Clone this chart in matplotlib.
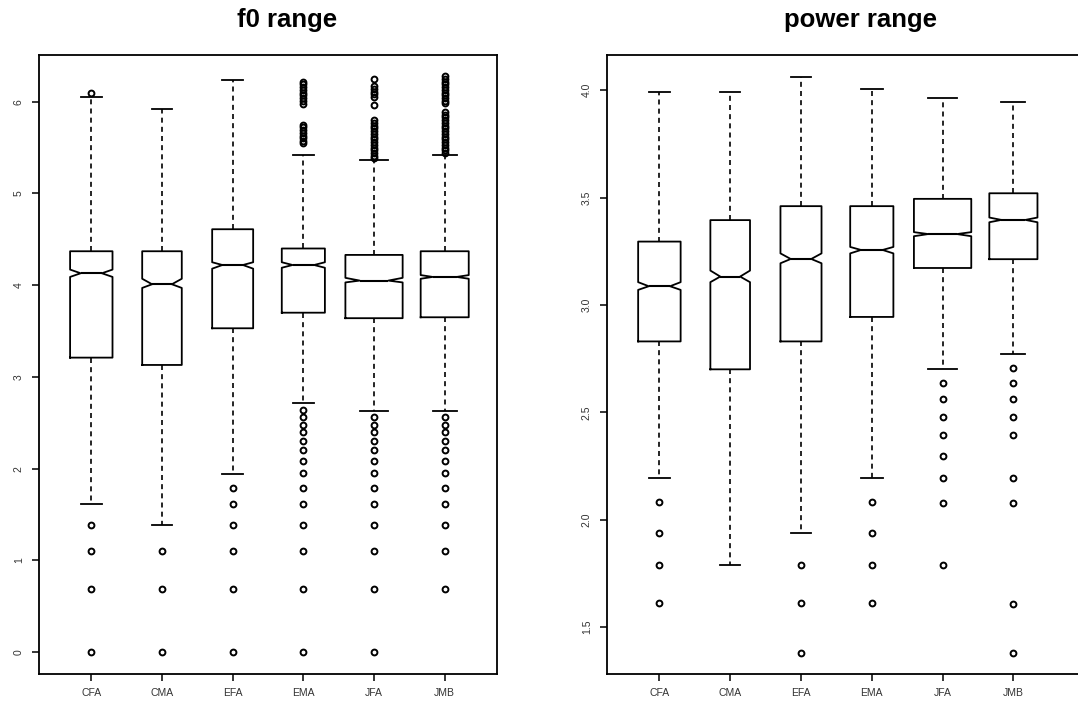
import matplotlib
matplotlib.use("Agg")
import matplotlib.pyplot as plt

plt.rcParams['font.family'] = ['Liberation Sans', 'DejaVu Sans']

groups = ["CFA", "CMA", "EFA", "EMA", "JFA", "JMB"]

# f0 range (left panel)
f0_q1 = [3.21, 3.13, 3.53, 3.70, 3.64, 3.65]
f0_med = [4.13, 4.01, 4.22, 4.22, 4.05, 4.09]
f0_q3 = [4.37, 4.37, 4.61, 4.40, 4.33, 4.37]
f0_lo = [1.61, 1.39, 1.94, 2.71, 2.63, 2.63]
f0_hi = [6.05, 5.92, 6.24, 5.42, 5.36, 5.42]
f0_cilo = [4.09, 3.97, 4.18, 4.19, 4.03, 4.07]
f0_cihi = [4.17, 4.07, 4.25, 4.25, 4.08, 4.11]
f0_out = [
    [6.10, 1.39, 1.10, 0.69, 0.0],
    [1.10, 0.69, 0.0],
    [1.79, 1.61, 1.39, 1.10, 0.69, 0.0],
    [6.22, 6.19, 6.16, 6.13, 6.10, 6.07, 6.04, 6.01, 5.98,
     5.75, 5.72, 5.69, 5.66, 5.63, 5.60, 5.57, 5.55,
     2.64, 2.56, 2.48, 2.40, 2.30, 2.20, 2.08, 1.95, 1.79, 1.61, 1.39, 1.10, 0.69, 0.0],
    [6.25, 6.17, 6.14, 6.11, 6.08, 6.05, 5.96,
     5.80, 5.77, 5.74, 5.71, 5.68, 5.65, 5.62, 5.59, 5.56, 5.53, 5.50, 5.47, 5.44, 5.41, 5.39,
     2.56, 2.48, 2.40, 2.30, 2.20, 2.08, 1.95, 1.79, 1.61, 1.39, 1.10, 0.69, 0.0],
    [6.28, 6.25, 6.22, 6.19, 6.16, 6.13, 6.10, 6.07, 6.04, 6.01, 5.99,
     5.89, 5.86, 5.83, 5.80, 5.77, 5.74, 5.71, 5.68, 5.65, 5.62, 5.59, 5.56, 5.53, 5.50,
     5.47, 5.44,
     2.56, 2.48, 2.40, 2.30, 2.20, 2.08, 1.95, 1.79, 1.61, 1.39, 1.10, 0.69],
]

# power range (right panel)
pw_q1 = [2.83, 2.70, 2.83, 2.944, 3.172, 3.213]
pw_med = [3.087, 3.132, 3.214, 3.256, 3.33, 3.396]
pw_q3 = [3.295, 3.395, 3.46, 3.46, 3.494, 3.52]
pw_lo = [2.193, 1.79, 1.94, 2.193, 2.70, 2.77]
pw_hi = [3.99, 3.99, 4.06, 4.006, 3.966, 3.947]
pw_cilo = [3.07, 3.106, 3.194, 3.24, 3.32, 3.385]
pw_cihi = [3.106, 3.16, 3.24, 3.27, 3.339, 3.407]
pw_out = [
    [2.08, 1.94, 1.79, 1.61],
    [],
    [1.79, 1.61, 1.38],
    [2.08, 1.94, 1.79, 1.61],
    [2.635, 2.56, 2.48, 2.393, 2.298, 2.193, 2.076, 1.79],
    [2.705, 2.635, 2.56, 2.48, 2.393, 2.193, 2.076, 1.606, 1.38],
]

box_w = [0.60, 0.56, 0.58, 0.61, 0.81, 0.68]
W, H = 1078, 702


def make_stats(q1, med, q3, lo, hi, cilo, cihi, out):
    st = []
    for i, g in enumerate(groups):
        st.append(dict(label=g, q1=q1[i], med=med[i], q3=q3[i], whislo=lo[i],
                       whishi=hi[i], cilo=cilo[i], cihi=cihi[i], fliers=out[i]))
    return st


def draw(ax, stats):
    ax.bxp(stats, positions=range(1, 7), widths=box_w, shownotches=True,
           capwidths=[w * 0.5 for w in box_w],
           boxprops=dict(color='black', lw=1.3),
           whiskerprops=dict(color='black', lw=1.2, linestyle=(0, (3, 2.5))),
           capprops=dict(color='black', lw=1.3),
           medianprops=dict(color='black', lw=1.5),
           flierprops=dict(marker='o', mfc='none', mec='black', ms=4.2, mew=1.4))
    for s in ax.spines.values():
        s.set_linewidth(1.3)
    ax.tick_params(length=5, width=1.1, labelsize=7.5, labelcolor='#333333')
    ax.tick_params(axis='y', labelrotation=90, pad=6)
    ax.tick_params(axis='x', pad=5)
    for lab in ax.get_yticklabels():
        lab.set_va('center')


fig = plt.figure(figsize=(W / 100, H / 100), dpi=100)

ax1 = fig.add_axes([39 / W, 1 - 674 / H, 458 / W, 619 / H])
draw(ax1, make_stats(f0_q1, f0_med, f0_q3, f0_lo, f0_hi, f0_cilo, f0_cihi, f0_out))
ax1.set_xlim(0.26, 6.74)
ax1.set_ylim(-0.24, 6.51)
ax1.set_yticks([0, 1, 2, 3, 4, 5, 6])
ax1.set_yticklabels(["0", "1", "2", "3", "4", "5", "6"], va='center')

ax2 = fig.add_axes([607 / W, 1 - 674 / H, 483 / W, 619 / H])
draw(ax2, make_stats(pw_q1, pw_med, pw_q3, pw_lo, pw_hi, pw_cilo, pw_cihi, pw_out))
ax2.set_xlim(0.26, 0.26 + 483 / 70.8)
ax2.set_ylim(1.281, 4.164)
ax2.set_yticks([1.5, 2.0, 2.5, 3.0, 3.5, 4.0])
ax2.set_yticklabels(["1.5", "2.0", "2.5", "3.0", "3.5", "4.0"], va='center')

fig.text(287.5 / W, 1 - 27 / H, "f0 range", ha='center', va='baseline',
         fontsize=18.5, fontweight='bold')
fig.text(860 / W, 1 - 27 / H, "power range", ha='center', va='baseline',
         fontsize=18.5, fontweight='bold')

fig.savefig("out.png", dpi=100)
